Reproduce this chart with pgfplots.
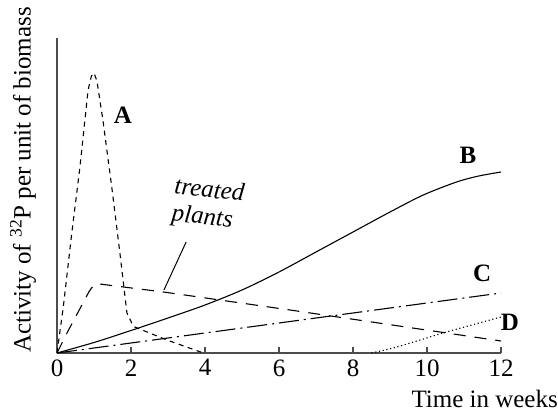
\documentclass[border=0pt]{standalone}
\usepackage{fontspec}
\setmainfont{Liberation Serif}
\usepackage{pgfplots}
\pgfplotsset{compat=1.18}
\usetikzlibrary{calc}

\begin{document}
\begin{tikzpicture}[font=\fontsize{25bp}{30bp}\selectfont]
\begin{axis}[
  scale only axis, width=444bp, height=315bp,
  xmin=0, xmax=12, ymin=0, ymax=315,
  axis x line=bottom, axis y line=left,
  axis line style={-, line width=1.6bp, black!70},
  xtick={0,2,...,12}, ytick=\empty,
  tick align=inside, major tick length=6bp,
  tick style={line width=1.2bp, black!70},
  xticklabel style={font=\fontsize{25bp}{30bp}\selectfont, yshift=-3bp},
  /pgf/number format/assume math mode=true,
  clip=false,
  every axis plot/.append style={line width=1.1bp, black},
]
% A
\addplot[dash pattern=on 5bp off 4.5bp] coordinates {
  (0,0) (0.17,46) (0.4,120) (0.62,186) (0.84,263) (0.93,277) (1.0,280)
  (1.08,272) (1.24,233) (1.48,166) (1.70,100) (1.89,40) (2.02,30)
  (2.1,26) (2.97,13) (3.96,0)
};
% treated plants
\addplot[dash pattern=on 12bp off 9bp] coordinates {
  (0,0) (0.27,20) (0.86,61) (0.99,68) (1.15,69) (2.88,61) (6.3,43) (12,12)
};
% B
\addplot[smooth] coordinates {
  (0,0) (1,10.5) (2,22.5) (3,35) (4,48) (5,63) (6,81) (7,101) (8,121)
  (9,141) (9.9,158) (10.8,171) (11.4,177) (12,181)
};
% C
\addplot[dash pattern=on 20bp off 5bp on 2bp off 5bp] coordinates {
  (0,0) (12,60)
};
% D
\addplot[smooth, dash pattern=on 1.2bp off 2.6bp] coordinates {
  (8.5,0) (9.18,6) (10.53,21) (12,36)
};
\draw[line width=1bp] (axis cs:2.89,63) -- (axis cs:3.49,111);
\node[font=\fontsize{25bp}{30bp}\selectfont\bfseries] at (axis cs:1.78,238) {A};
\node[font=\fontsize{25bp}{30bp}\selectfont\bfseries] at (axis cs:11.11,198) {B};
\node[font=\fontsize{25bp}{30bp}\selectfont\bfseries] at (axis cs:11.49,80) {C};
\node[font=\fontsize{25bp}{30bp}\selectfont\bfseries] at (axis cs:12.24,31) {D};
\node[font=\fontsize{25bp}{27bp}\selectfont\itshape, align=left, rotate=-6]
  at (axis cs:4.08,148) {treated\\plants};
\coordinate (O) at (axis cs:0,0);
\coordinate (R) at (axis cs:12,0);
\end{axis}
\node[anchor=base east, inner sep=0pt] at ($(R)+(57bp,-54bp)$) {Time in weeks};
\node[rotate=90, anchor=center] at ($(O)+(-34bp,173bp)$) {Activity of \textsuperscript{32}P per unit of biomass};
\pgfresetboundingbox
\path ($(O)+(-57bp,-60bp)$) rectangle ($(O)+(501bp,353bp)$);
\end{tikzpicture}
\end{document}
